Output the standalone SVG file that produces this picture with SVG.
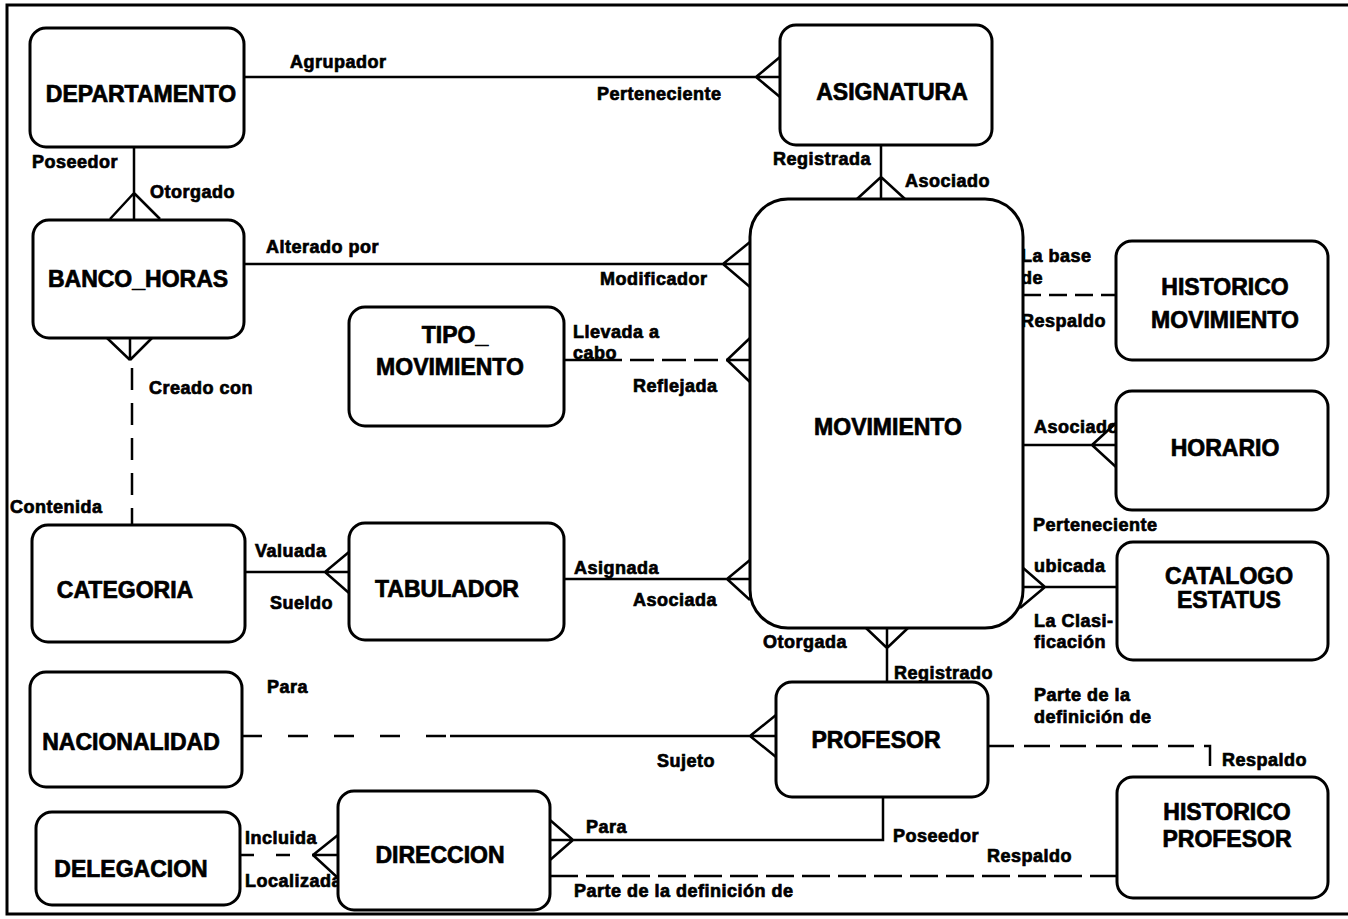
<svg xmlns="http://www.w3.org/2000/svg" width="1348" height="919" viewBox="0 0 1348 919">
<style>
.box{fill:#fff;stroke:#000;stroke-width:3}
.ent{font-family:"Liberation Sans",Arial,sans-serif;font-weight:bold;font-size:23px;text-anchor:middle;fill:#000;stroke:#000;stroke-width:0.7}
.lbl{font-family:"Liberation Sans",Arial,sans-serif;font-weight:bold;font-size:18px;letter-spacing:0.5px;fill:#000;stroke:#000;stroke-width:0.7}
.ln{fill:none;stroke:#000;stroke-width:2.5}
</style>
<rect x="0" y="0" width="1348" height="919" fill="#fff"/>
<path d="M1348 5 H7 V914 H1348" fill="none" stroke="#000" stroke-width="3"/>

<g id="connectors">
  <g id="c_dep_asig">
    <path class="ln" d="M244 77 H780 M756 77 L780 57 M756 77 L780 97"/>
    <text class="lbl" x="290" y="68">Agrupador</text>
    <text class="lbl" x="597" y="100">Perteneciente</text>
  </g>
  <g id="c_dep_banco">
    <path class="ln" d="M134 147 V220 M134 193 L110 219 M134 193 L160 219"/>
    <text class="lbl" x="32" y="168">Poseedor</text>
    <text class="lbl" x="150" y="198">Otorgado</text>
  </g>
  <g id="c_banco_mov">
    <path class="ln" d="M244 264 H750 M723 264 L750 242 M723 264 L750 287"/>
    <text class="lbl" x="266" y="253">Alterado por</text>
    <text class="lbl" x="600" y="285">Modificador</text>
  </g>
  <g id="c_asig_mov">
    <path class="ln" d="M881 145 V199 M881 177 L857 199 M881 177 L905 199"/>
    <text class="lbl" x="773" y="165">Registrada</text>
    <text class="lbl" x="905" y="187">Asociado</text>
  </g>
  <g id="c_mov_hist">
    <path class="ln" d="M1023 295 H1116" stroke-dasharray="18 8"/>
    <text class="lbl" x="1021" y="262">La base</text>
    <text class="lbl" x="1021" y="284">de</text>
    <text class="lbl" x="1021" y="327">Respaldo</text>
  </g>
  <g id="c_mov_horario">
    <path class="ln" d="M1023 445 H1116 M1092 445 L1116 423 M1092 445 L1116 467"/>
    <text class="lbl" x="1034" y="433">Asociado</text>
  </g>
  <g id="c_mov_catalogo">
    <path class="ln" d="M1022 587 H1117 M1045 587 L1022 567 M1045 587 L1020 608"/>
    <text class="lbl" x="1033" y="531">Perteneciente</text>
    <text class="lbl" x="1034" y="572">ubicada</text>
    <text class="lbl" x="1034" y="627">La Clasi-</text>
    <text class="lbl" x="1034" y="648">ficación</text>
  </g>
  <g id="c_tipo_mov">
    <path class="ln" d="M564 360 H727" stroke-dasharray="58 8 24 8 24 8 24 8"/>
    <path class="ln" d="M727 360 H750 M727 360 L750 338 M727 360 L750 382"/>
    <text class="lbl" x="573" y="338">Llevada a</text>
    <text class="lbl" x="573" y="359">cabo</text>
    <text class="lbl" x="633" y="392">Reflejada</text>
  </g>
  <g id="c_banco_cat">
    <path class="ln" d="M130 338 V360 M130 360 L107 338 M130 360 L152 338"/>
    <path class="ln" d="M132 368 V525" stroke-dasharray="22 13"/>
    <text class="lbl" x="149" y="394">Creado con</text>
    <text class="lbl" x="10" y="513">Contenida</text>
  </g>
  <g id="c_cat_tab">
    <path class="ln" d="M245 572 H349 M325 572 L349 552 M325 572 L349 593"/>
    <text class="lbl" x="255" y="557">Valuada</text>
    <text class="lbl" x="270" y="609">Sueldo</text>
  </g>
  <g id="c_tab_mov">
    <path class="ln" d="M564 579 H750 M727 579 L750 560 M727 579 L750 600"/>
    <text class="lbl" x="574" y="574">Asignada</text>
    <text class="lbl" x="633" y="606">Asociada</text>
  </g>
  <g id="c_mov_prof">
    <path class="ln" d="M887 628 V682 M887 648 L866 628 M887 648 L908 628"/>
    <text class="lbl" x="763" y="648">Otorgada</text>
    <text class="lbl" x="894" y="679">Registrado</text>
  </g>
  <g id="c_nac_prof">
    <path class="ln" d="M242 736 H450" stroke-dasharray="20 26"/>
    <path class="ln" d="M450 736 H776 M750 736 L776 715 M750 736 L776 757"/>
    <text class="lbl" x="267" y="693">Para</text>
    <text class="lbl" x="657" y="767">Sujeto</text>
  </g>
  <g id="c_prof_histprof">
    <path class="ln" d="M988 746 H1210 V777" stroke-dasharray="26 10"/>
    <text class="lbl" x="1034" y="701">Parte de la</text>
    <text class="lbl" x="1034" y="723">definición de</text>
    <text class="lbl" x="1222" y="766">Respaldo</text>
  </g>
  <g id="c_dir_prof">
    <path class="ln" d="M550 840 H883 V797 M573 840 L550 820 M573 840 L550 860"/>
    <text class="lbl" x="586" y="833">Para</text>
    <text class="lbl" x="893" y="842">Poseedor</text>
  </g>
  <g id="c_dir_histprof">
    <path class="ln" d="M550 876 H1117" stroke-dasharray="28 8"/>
    <text class="lbl" x="574" y="897">Parte de la definición de</text>
    <text class="lbl" x="987" y="862">Respaldo</text>
  </g>
  <g id="c_deleg_dir">
    <path class="ln" d="M240 855 H313" stroke-dasharray="14 22"/>
    <path class="ln" d="M313 855 H338 M313 855 L338 835 M313 855 L338 878"/>
    <text class="lbl" x="245" y="844">Incluida</text>
    <text class="lbl" x="245" y="887">Localizada</text>
  </g>
</g>

<g id="n_departamento"><rect class="box" x="30" y="28" width="214" height="119" rx="16"/><text class="ent" x="141" y="102">DEPARTAMENTO</text></g>
<g id="n_asignatura"><rect class="box" x="780" y="25" width="212" height="120" rx="16"/><text class="ent" x="892" y="100">ASIGNATURA</text></g>
<g id="n_banco_horas"><rect class="box" x="33" y="220" width="211" height="118" rx="16"/><text class="ent" x="138" y="287">BANCO_HORAS</text></g>
<g id="n_movimiento"><rect class="box" x="750" y="199" width="273" height="429" rx="38"/><text class="ent" x="888" y="435">MOVIMIENTO</text></g>
<g id="n_historico_movimiento"><rect class="box" x="1116" y="241" width="212" height="119" rx="16"/><text class="ent" x="1225" y="295">HISTORICO</text><text class="ent" x="1225" y="328">MOVIMIENTO</text></g>
<g id="n_tipo_movimiento"><rect class="box" x="349" y="307" width="215" height="119" rx="16"/><text class="ent" x="455" y="343">TIPO_</text><text class="ent" x="450" y="375">MOVIMIENTO</text></g>
<g id="n_horario"><rect class="box" x="1116" y="391" width="212" height="119" rx="16"/><text class="ent" x="1225" y="456">HORARIO</text></g>
<g id="n_categoria"><rect class="box" x="32" y="525" width="213" height="117" rx="16"/><text class="ent" x="125" y="598">CATEGORIA</text></g>
<g id="n_tabulador"><rect class="box" x="349" y="523" width="215" height="117" rx="16"/><text class="ent" x="447" y="597">TABULADOR</text></g>
<g id="n_catalogo_estatus"><rect class="box" x="1117" y="542" width="211" height="118" rx="16"/><text class="ent" x="1229" y="584">CATALOGO</text><text class="ent" x="1229" y="608">ESTATUS</text></g>
<g id="n_nacionalidad"><rect class="box" x="30" y="672" width="212" height="115" rx="16"/><text class="ent" x="131" y="750">NACIONALIDAD</text></g>
<g id="n_profesor"><rect class="box" x="776" y="682" width="212" height="115" rx="16"/><text class="ent" x="876" y="748">PROFESOR</text></g>
<g id="n_delegacion"><rect class="box" x="36" y="812" width="204" height="93" rx="16"/><text class="ent" x="131" y="877">DELEGACION</text></g>
<g id="n_direccion"><rect class="box" x="338" y="791" width="212" height="119" rx="16"/><text class="ent" x="440" y="863">DIRECCION</text></g>
<g id="n_historico_profesor"><rect class="box" x="1117" y="777" width="211" height="121" rx="16"/><text class="ent" x="1227" y="820">HISTORICO</text><text class="ent" x="1227" y="847">PROFESOR</text></g>
</svg>
